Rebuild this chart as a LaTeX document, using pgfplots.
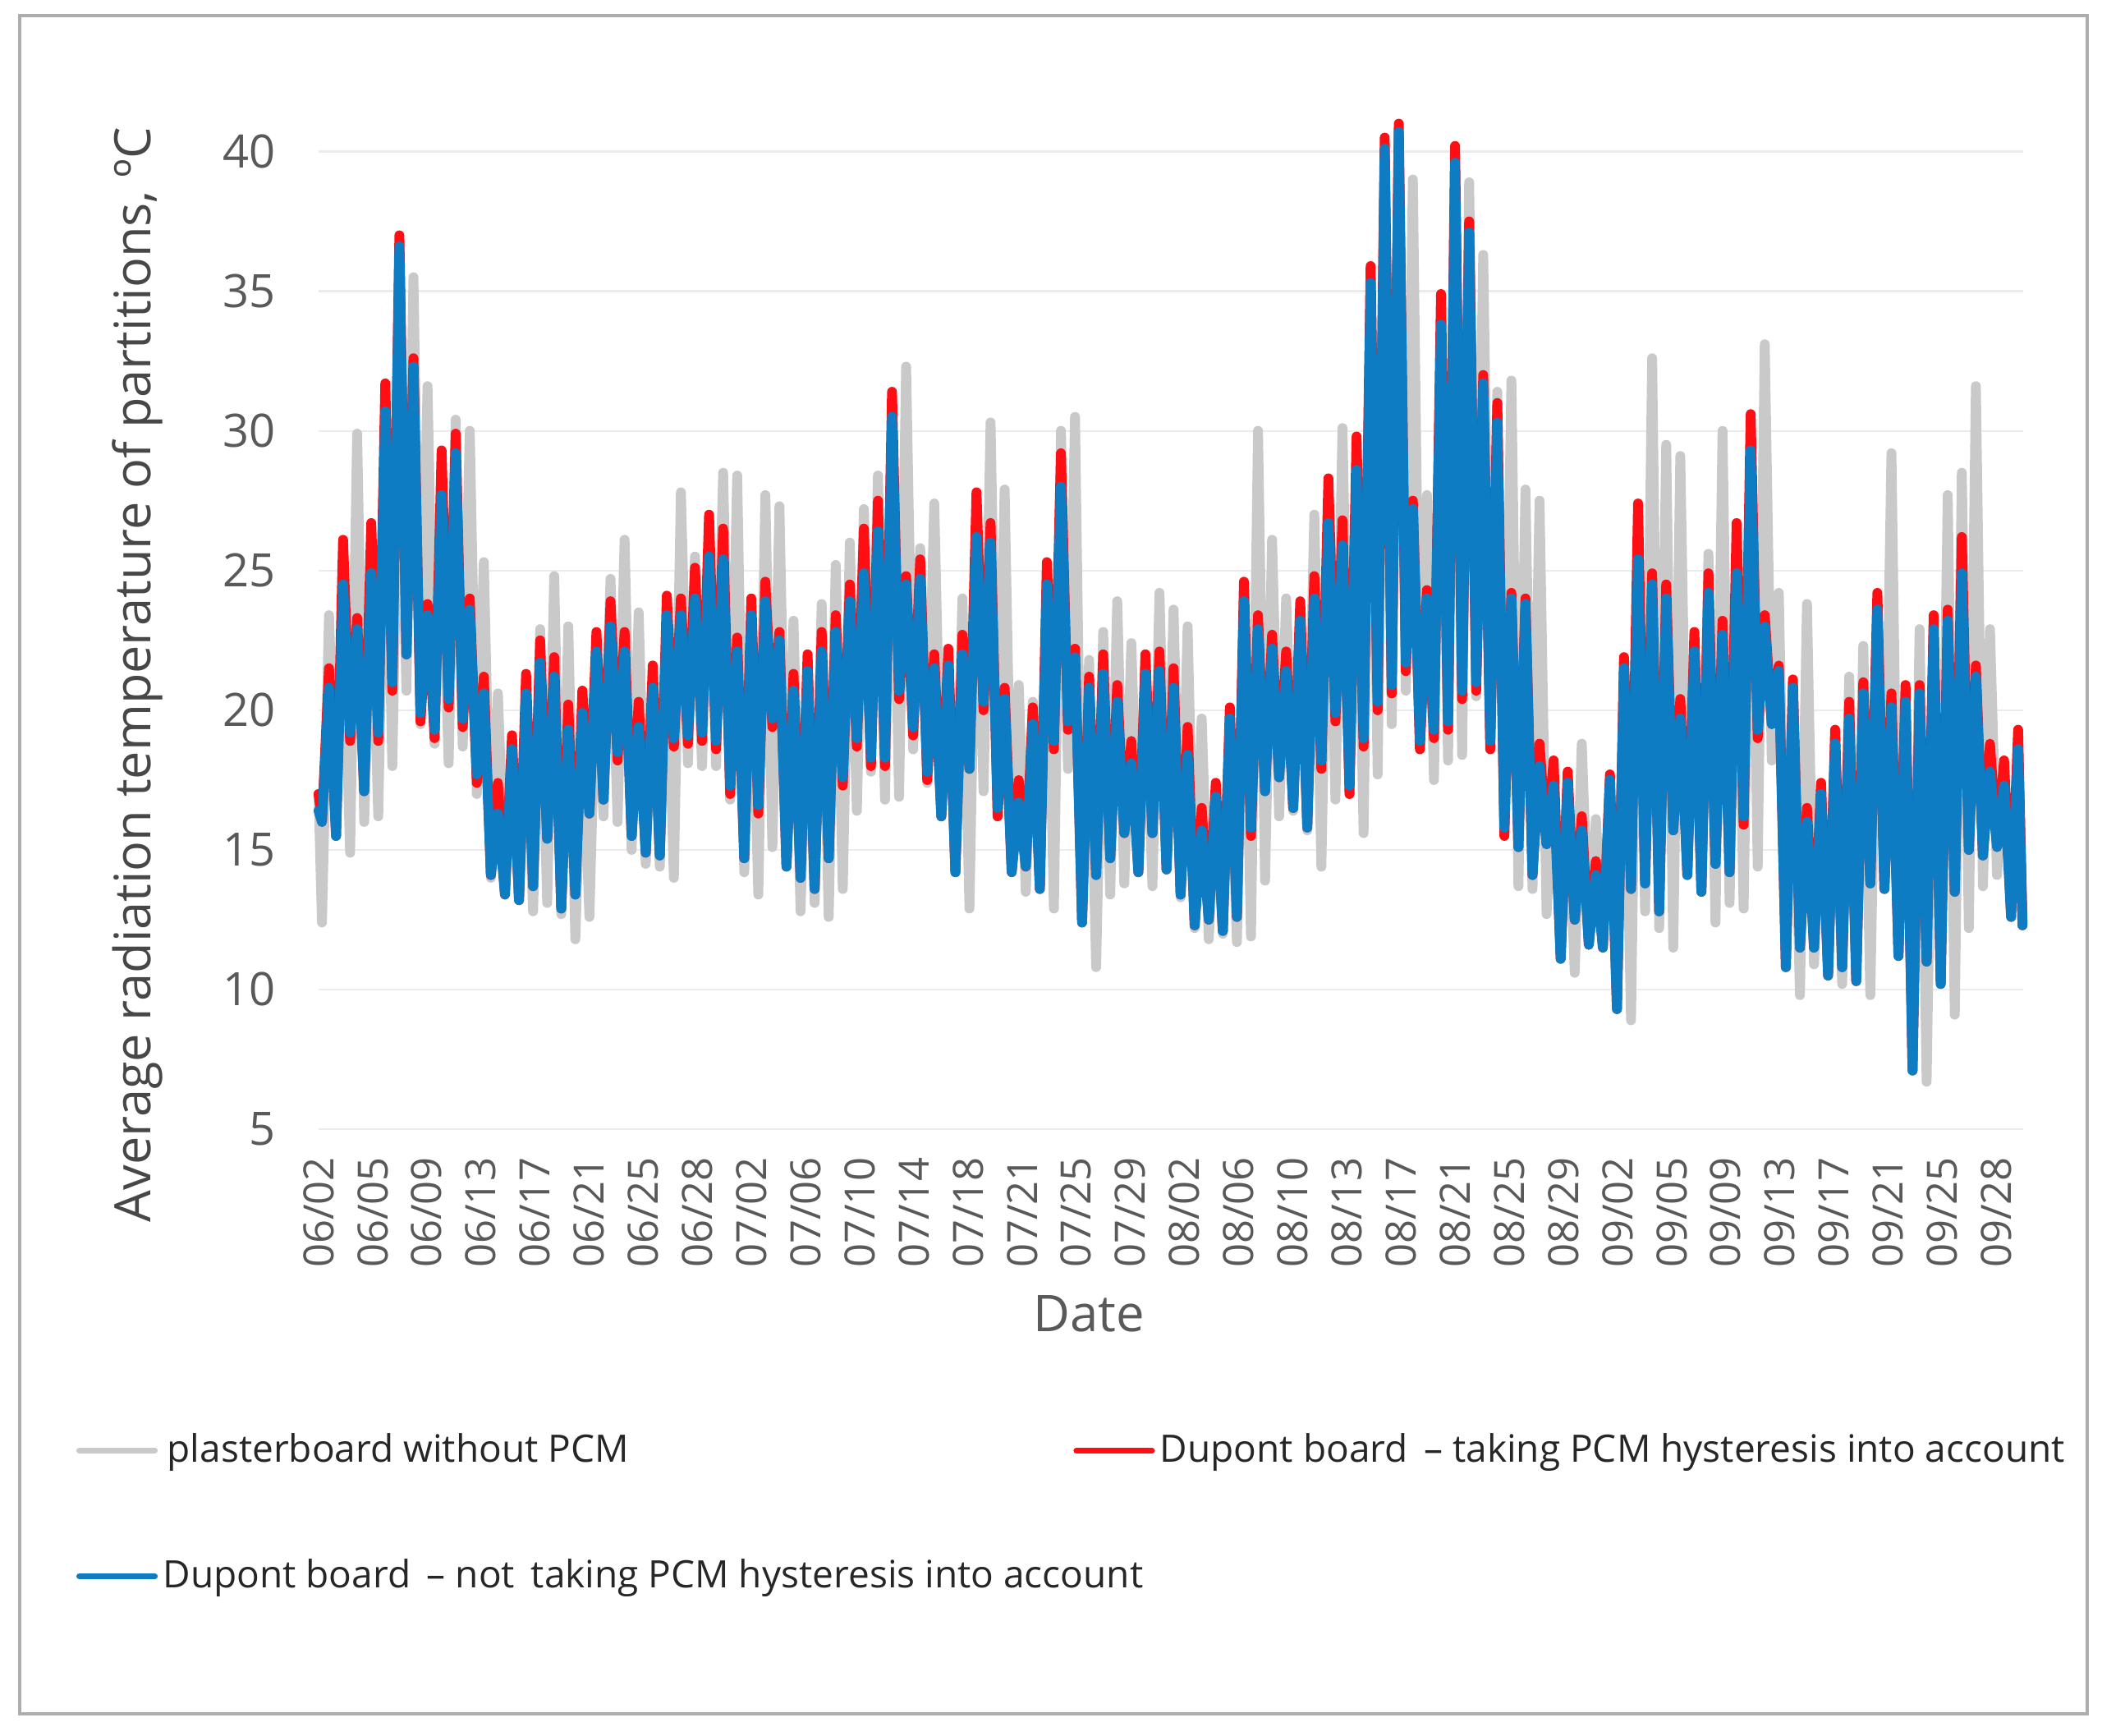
\documentclass[border=0pt]{standalone}
\usepackage{fontspec}
\setmainfont{Open Sans}
\usepackage{pgfplots}
\pgfplotsset{compat=1.18}
\definecolor{cgray}{HTML}{C9C9C9}
\definecolor{cred}{HTML}{FF0F14}
\definecolor{cblue}{HTML}{0E7CC2}
\definecolor{ctxt}{HTML}{595959}
\definecolor{cgrid}{HTML}{EBEBEB}
\begin{document}
\begin{tikzpicture}
\path[use as bounding box] (0,0) rectangle (640pt,528.25pt);
\draw[color=black!32,line width=0.8pt] (6pt,6.5pt) rectangle (635.5pt,523.5pt);
\begin{axis}[
  at={(97pt,184.5pt)},anchor=south west,scale only axis,
  width=519pt,height=297.6pt,
  xmin=0,xmax=121.1,ymin=5,ymax=40,clip=false,
  axis line style={draw=none},major tick length=0pt,
  ymajorgrids,grid style={cgrid,line width=0.6pt},
  ytick={5,10,...,40},
  xtick={0,3.845,...,119.5},
  xticklabels={06/02,06/05,06/09,06/13,06/17,06/21,06/25,06/28,07/02,07/06,07/10,07/14,07/18,07/21,07/25,07/29,08/02,08/06,08/10,08/13,08/17,08/21,08/25,08/29,09/02,09/05,09/09,09/13,09/17,09/21,09/25,09/28},
  /pgf/number format/assume math mode=true,
  x tick label style={rotate=90,anchor=east,font=\fontsize{12.7}{15}\selectfont,text=ctxt,xshift=-5pt},
  y tick label style={font=\fontsize{14}{16}\selectfont,text=ctxt,xshift=-9.5pt},
  xlabel={Date},
  xlabel style={at={(axis description cs:0.452,-0.189)},anchor=center,font=\fontsize{15.4}{17}\selectfont,text=ctxt},
  ylabel={Average radiation temperature of partitions, ºC},
  ylabel style={at={(axis description cs:-0.106,0.465)},anchor=center,font=\fontsize{15.3}{17}\selectfont,text=ctxt!80!black},
  legend columns=2,
  legend cell align=left,
  legend image code/.code={\draw[#1,line width=1.8pt] (0pt,0pt) -- (23pt,0pt);},
  legend style={at={(axis description cs:-0.1425,-0.311)},anchor=north west,draw=none,fill=none,
    inner sep=0pt,row sep=28pt,column sep=1.6pt,
    nodes={inner sep=0pt,anchor=west},font=\fontsize{11.5}{14}\selectfont,text=black!85},
  every axis plot/.append style={line width=3pt,line join=round,line cap=round,no marks},
]
\addplot[cgray] coordinates {(0,17)
(0.24,12.4)(0.74,23.4)(1.24,15.5)(1.74,24)(2.24,14.9)(2.74,29.9)(3.24,16)(3.74,25)(4.24,16.2)(4.74,30)
(5.24,18)(5.74,32)(6.24,20.7)(6.74,35.5)(7.24,19.5)(7.74,31.6)(8.24,18.8)(8.74,27)(9.24,18.1)(9.74,30.4)
(10.24,18.7)(10.74,30)(11.24,17)(11.74,25.3)(12.24,14)(12.74,20.6)(13.24,13.5)(13.74,18)(14.24,13.2)(14.74,20)
(15.24,12.8)(15.74,22.9)(16.24,13.1)(16.74,24.8)(17.24,12.7)(17.74,23)(18.24,11.8)(18.74,20)(19.24,12.6)(19.74,22)
(20.24,16.2)(20.74,24.7)(21.24,16)(21.74,26.1)(22.24,15)(22.74,23.5)(23.24,14.5)(23.74,21)(24.24,14.4)(24.74,23)
(25.24,14)(25.74,27.8)(26.24,18.1)(26.74,25.5)(27.24,18)(27.74,26)(28.24,18)(28.74,28.5)(29.24,16.8)(29.74,28.4)
(30.24,14.2)(30.74,23)(31.24,13.4)(31.74,27.7)(32.24,15.1)(32.74,27.3)(33.24,14.6)(33.74,23.2)(34.24,12.8)(34.74,21.5)
(35.24,13.1)(35.74,23.8)(36.24,12.6)(36.74,25.2)(37.24,13.6)(37.74,26)(38.24,16.4)(38.74,27.2)(39.24,17.8)(39.74,28.4)
(40.24,16.8)(40.74,30)(41.24,16.9)(41.74,32.3)(42.24,18.6)(42.74,25.8)(43.24,17.4)(43.74,27.4)(44.24,16.2)(44.74,21.5)
(45.24,14.2)(45.74,24)(46.24,12.9)(46.74,27)(47.24,17.1)(47.74,30.3)(48.24,16.2)(48.74,27.9)(49.24,14.3)(49.74,20.9)
(50.24,13.5)(50.74,20.3)(51.24,13.6)(51.74,24.8)(52.24,12.9)(52.74,30)(53.24,17.9)(53.74,30.5)(54.24,12.5)(54.74,21.8)
(55.24,10.8)(55.74,22.8)(56.24,13.4)(56.74,23.9)(57.24,13.8)(57.74,22.4)(58.24,14.2)(58.74,21.5)(59.24,13.7)(59.74,24.2)
(60.24,14.3)(60.74,23.6)(61.24,13.3)(61.74,23)(62.24,12.2)(62.74,19.7)(63.24,11.8)(63.74,17)(64.24,12)(64.74,19.5)
(65.24,11.7)(65.74,24)(66.24,11.9)(66.74,30)(67.24,13.9)(67.74,26.1)(68.24,16.2)(68.74,24)(69.24,16.4)(69.74,23.5)
(70.24,15.7)(70.74,27)(71.24,14.4)(71.74,27.5)(72.24,16.8)(72.74,30.1)(73.24,17)(73.74,29)(74.24,15.6)(74.74,35)
(75.24,17.7)(75.74,39.5)(76.24,19.5)(76.74,40)(77.24,20.7)(77.74,39)(78.24,18.7)(78.74,27.7)(79.24,17.5)(79.74,34)
(80.24,18.2)(80.74,39)(81.24,18.4)(81.74,38.9)(82.24,20.5)(82.74,36.3)(83.24,18.8)(83.74,31.4)(84.24,15.7)(84.74,31.8)
(85.24,13.7)(85.74,27.9)(86.24,13.6)(86.74,27.5)(87.24,12.7)(87.74,18)(88.24,11.3)(88.74,17.5)(89.24,10.6)(89.74,18.8)
(90.24,11.7)(90.74,16.1)(91.24,11.6)(91.74,17)(92.24,9.5)(92.74,21.5)(93.24,8.9)(93.74,27)(94.24,12.8)(94.74,32.6)
(95.24,12.2)(95.74,29.5)(96.24,11.5)(96.74,29.1)(97.24,14.2)(97.74,22.5)(98.24,13.5)(98.74,25.6)(99.24,12.4)(99.74,30)
(100.24,13.1)(100.74,26)(101.24,12.9)(101.74,30)(102.24,14.4)(102.74,33.1)(103.24,18.2)(103.74,24.2)(104.24,11)(104.74,20.8)
(105.24,9.8)(105.74,23.8)(106.24,10.9)(106.74,17.2)(107.24,10.6)(107.74,19)(108.24,10.2)(108.74,21.2)(109.24,10.4)(109.74,22.3)
(110.24,9.8)(110.74,24)(111.24,13.6)(111.74,29.2)(112.24,11.3)(112.74,20.5)(113.24,7.3)(113.74,22.9)(114.24,6.7)(114.74,23)
(115.24,10.3)(115.74,27.7)(116.24,9.1)(116.74,28.5)(117.24,12.2)(117.74,31.6)(118.24,13.7)(118.74,22.9)(119.24,14.1)(119.74,18)
(120.24,13)(120.74,19)(121.05,12.6)};
\addlegendentry{\hspace*{1.3pt}\makebox[274.3pt][l]{plasterboard without PCM}}
\addplot[cred] coordinates {(0,17)
(0.24,16)(0.74,21.5)(1.24,15.5)(1.74,26.1)(2.24,18.9)(2.74,23.3)(3.24,17.1)(3.74,26.7)(4.24,18.9)(4.74,31.7)
(5.24,20.7)(5.74,37)(6.24,22)(6.74,32.6)(7.24,19.6)(7.74,23.8)(8.24,19)(8.74,29.3)(9.24,20.1)(9.74,29.9)
(10.24,19.4)(10.74,24)(11.24,17.4)(11.74,21.2)(12.24,14.1)(12.74,17.4)(13.24,13.4)(13.74,19.1)(14.24,13.2)(14.74,21.3)
(15.24,13.7)(15.74,22.5)(16.24,15.4)(16.74,21.9)(17.24,12.9)(17.74,20.2)(18.24,13.4)(18.74,20.7)(19.24,16.3)(19.74,22.8)
(20.24,16.8)(20.74,23.9)(21.24,18.2)(21.74,22.8)(22.24,15.5)(22.74,20.3)(23.24,14.9)(23.74,21.6)(24.24,14.8)(24.74,24.1)
(25.24,18.7)(25.74,24)(26.24,18.8)(26.74,25.1)(27.24,18.9)(27.74,27)(28.24,18.6)(28.74,26.5)(29.24,17)(29.74,22.6)
(30.24,14.7)(30.74,24)(31.24,16.3)(31.74,24.6)(32.24,19.4)(32.74,22.8)(33.24,14.4)(33.74,21.3)(34.24,14)(34.74,22)
(35.24,13.6)(35.74,22.8)(36.24,14.7)(36.74,23.4)(37.24,17.3)(37.74,24.5)(38.24,18.7)(38.74,26.5)(39.24,18)(39.74,27.5)
(40.24,18)(40.74,31.4)(41.24,20.4)(41.74,24.8)(42.24,19.1)(42.74,25.4)(43.24,17.5)(43.74,22)(44.24,16.2)(44.74,22.2)
(45.24,14.2)(45.74,22.7)(46.24,17.9)(46.74,27.8)(47.24,20)(47.74,26.7)(48.24,16.2)(48.74,20.8)(49.24,14.2)(49.74,17.5)
(50.24,14.4)(50.74,20.1)(51.24,13.6)(51.74,25.3)(52.24,18.6)(52.74,29.2)(53.24,19.3)(53.74,22.2)(54.24,12.4)(54.74,21.2)
(55.24,14.1)(55.74,22)(56.24,14.7)(56.74,20.9)(57.24,15.6)(57.74,18.9)(58.24,14.2)(58.74,22)(59.24,15.6)(59.74,22.1)
(60.24,14.3)(60.74,21.5)(61.24,13.4)(61.74,19.4)(62.24,12.3)(62.74,16.5)(63.24,12.5)(63.74,17.4)(64.24,12.1)(64.74,20.1)
(65.24,12.6)(65.74,24.6)(66.24,15.5)(66.74,23.4)(67.24,17.1)(67.74,22.7)(68.24,17.6)(68.74,22.1)(69.24,16.5)(69.74,23.9)
(70.24,15.8)(70.74,24.8)(71.24,17.9)(71.74,28.3)(72.24,19.6)(72.74,26.8)(73.24,17)(73.74,29.8)(74.24,18.7)(74.74,35.9)
(75.24,20)(75.74,40.5)(76.24,20.6)(76.74,41)(77.24,21.4)(77.74,27.5)(78.24,18.6)(78.74,24.3)(79.24,19)(79.74,34.9)
(80.24,19.3)(80.74,40.2)(81.24,20.4)(81.74,37.5)(82.24,20.7)(82.74,32)(83.24,18.6)(83.74,31)(84.24,15.5)(84.74,24.2)
(85.24,15.1)(85.74,24)(86.24,14.1)(86.74,18.8)(87.24,15.2)(87.74,18.2)(88.24,11.1)(88.74,17.8)(89.24,12.5)(89.74,16.2)
(90.24,11.6)(90.74,14.6)(91.24,11.5)(91.74,17.7)(92.24,9.3)(92.74,21.9)(93.24,13.6)(93.74,27.4)(94.24,13.8)(94.74,24.9)
(95.24,12.8)(95.74,24.5)(96.24,15.7)(96.74,20.4)(97.24,14.1)(97.74,22.8)(98.24,13.5)(98.74,24.9)(99.24,14.5)(99.74,23.2)
(100.24,14.2)(100.74,26.7)(101.24,15.9)(101.74,30.6)(102.24,19)(102.74,23.4)(103.24,19.5)(103.74,21.6)(104.24,10.8)(104.74,21.1)
(105.24,11.5)(105.74,16.5)(106.24,11.5)(106.74,17.4)(107.24,10.5)(107.74,19.3)(108.24,10.8)(108.74,20.3)(109.24,10.3)(109.74,21)
(110.24,13.8)(110.74,24.2)(111.24,13.6)(111.74,20.6)(112.24,11.2)(112.74,20.9)(113.24,7.1)(113.74,20.9)(114.24,11)(114.74,23.4)
(115.24,10.2)(115.74,23.6)(116.24,13.5)(116.74,26.2)(117.24,15)(117.74,21.6)(118.24,14.8)(118.74,18.8)(119.24,15.1)(119.74,18.2)
(120.24,12.6)(120.74,19.3)(121.05,12.3)};
\addlegendentry{Dupont board \,– taking PCM hysteresis into account}
\addplot[cblue] coordinates {(0,16.4)
(0.24,16)(0.74,20.8)(1.24,15.5)(1.74,24.5)(2.24,19.2)(2.74,22.9)(3.24,17.1)(3.74,24.9)(4.24,19.2)(4.74,30.7)
(5.24,21)(5.74,36.6)(6.24,22)(6.74,32.3)(7.24,19.9)(7.74,23.4)(8.24,19.3)(8.74,27.7)(9.24,20.4)(9.74,29.2)
(10.24,19.7)(10.74,23.6)(11.24,17.7)(11.74,20.6)(12.24,14.1)(12.74,16.3)(13.24,13.4)(13.74,18.6)(14.24,13.2)(14.74,20.6)
(15.24,13.7)(15.74,21.7)(16.24,15.4)(16.74,21.2)(17.24,12.9)(17.74,19.3)(18.24,13.4)(18.74,19.9)(19.24,16.3)(19.74,22.1)
(20.24,16.8)(20.74,23)(21.24,18.5)(21.74,22.1)(22.24,15.5)(22.74,19.4)(23.24,14.9)(23.74,20.8)(24.24,14.8)(24.74,23.4)
(25.24,19)(25.74,23.4)(26.24,19.1)(26.74,24)(27.24,19.2)(27.74,25.5)(28.24,18.9)(28.74,25.4)(29.24,17.3)(29.74,22.1)
(30.24,14.7)(30.74,23.4)(31.24,16.6)(31.74,23.9)(32.24,19.7)(32.74,22.5)(33.24,14.4)(33.74,20.7)(34.24,14)(34.74,21.4)
(35.24,13.6)(35.74,22.1)(36.24,14.7)(36.74,22.8)(37.24,17.6)(37.74,23.9)(38.24,19)(38.74,24.9)(39.24,18.3)(39.74,26.4)
(40.24,18.3)(40.74,30.5)(41.24,20.7)(41.74,24.5)(42.24,19.4)(42.74,24.7)(43.24,17.8)(43.74,21.5)(44.24,16.2)(44.74,21.6)
(45.24,14.2)(45.74,22)(46.24,17.9)(46.74,26.2)(47.24,20.3)(47.74,26)(48.24,16.5)(48.74,20.4)(49.24,14.2)(49.74,16.7)
(50.24,14.4)(50.74,19.5)(51.24,13.6)(51.74,24.5)(52.24,18.9)(52.74,28)(53.24,19.6)(53.74,21.9)(54.24,12.4)(54.74,20.8)
(55.24,14.1)(55.74,21.3)(56.24,14.7)(56.74,20.3)(57.24,15.6)(57.74,18.1)(58.24,14.2)(58.74,21.3)(59.24,15.6)(59.74,21.4)
(60.24,14.3)(60.74,20.8)(61.24,13.4)(61.74,18.4)(62.24,12.3)(62.74,15.7)(63.24,12.5)(63.74,16.9)(64.24,12.1)(64.74,19.7)
(65.24,12.6)(65.74,23.9)(66.24,15.8)(66.74,22.9)(67.24,17.1)(67.74,22.2)(68.24,17.6)(68.74,21.4)(69.24,16.5)(69.74,23.2)
(70.24,15.8)(70.74,24)(71.24,18.2)(71.74,26.7)(72.24,19.9)(72.74,25.9)(73.24,17.3)(73.74,28.6)(74.24,19)(74.74,35.3)
(75.24,20.3)(75.74,40.1)(76.24,20.9)(76.74,40.7)(77.24,21.7)(77.74,27.2)(78.24,18.9)(78.74,24)(79.24,19.3)(79.74,33.8)
(80.24,19.6)(80.74,39.6)(81.24,20.7)(81.74,37.1)(82.24,21)(82.74,31.7)(83.24,18.9)(83.74,30.3)(84.24,15.8)(84.74,24)
(85.24,15.1)(85.74,23.8)(86.24,14.1)(86.74,18)(87.24,15.2)(87.74,17.3)(88.24,11.1)(88.74,17.4)(89.24,12.5)(89.74,15.7)
(90.24,11.6)(90.74,14.1)(91.24,11.5)(91.74,17.5)(92.24,9.3)(92.74,21.5)(93.24,13.6)(93.74,25.4)(94.24,13.8)(94.74,24.5)
(95.24,12.8)(95.74,24)(96.24,15.7)(96.74,19.7)(97.24,14.1)(97.74,22.1)(98.24,13.5)(98.74,24.2)(99.24,14.5)(99.74,22.7)
(100.24,14.2)(100.74,24.9)(101.24,16.2)(101.74,29.3)(102.24,19.3)(102.74,23)(103.24,19.5)(103.74,21.4)(104.24,10.8)(104.74,20.8)
(105.24,11.5)(105.74,16)(106.24,11.5)(106.74,17)(107.24,10.5)(107.74,18.8)(108.24,10.8)(108.74,19.7)(109.24,10.3)(109.74,20.6)
(110.24,13.8)(110.74,23.6)(111.24,13.6)(111.74,20.1)(112.24,11.2)(112.74,20.3)(113.24,7.1)(113.74,20.6)(114.24,11)(114.74,22.9)
(115.24,10.2)(115.74,23.2)(116.24,13.5)(116.74,24.9)(117.24,15)(117.74,21.2)(118.24,14.8)(118.74,17.8)(119.24,15.1)(119.74,17.3)
(120.24,12.6)(120.74,18.6)(121.05,12.3)};
\addlegendentry{\makebox[274.3pt][l]{Dupont board \,– not \,taking PCM hysteresis into account}}
\end{axis}
\end{tikzpicture}
\end{document}
